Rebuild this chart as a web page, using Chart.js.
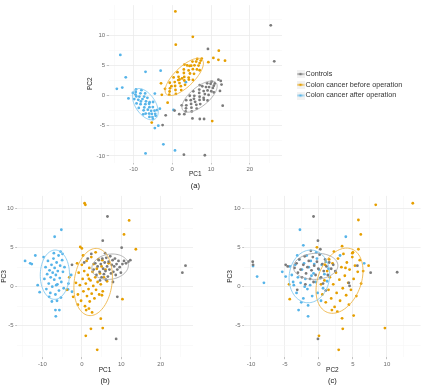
<!DOCTYPE html>
<html>
<head>
<meta charset="utf-8">
<script src="https://cdn.jsdelivr.net/npm/chart.js@4/dist/chart.umd.min.js"></script>
<style>
  html, body { margin: 0; padding: 0; background: #fff; }
  body { width: 422px; height: 385px; position: relative; overflow: hidden; }
  canvas { position: absolute; }
  #chartA { left: 80px; top: 0px; }
  #chartB { left: 0px; top: 190px; }
  #chartC { left: 222px; top: 190px; }
</style>
</head>
<body>
<canvas id="chartA" width="342" height="192"></canvas>
<canvas id="chartB" width="211" height="195"></canvas>
<canvas id="chartC" width="200" height="195"></canvas>
<script>
const groupNames = ["Controls", "Colon cancer before operation", "Colon cancer after operation"];

// (a) PC1 vs PC2
const controlsPC1PC2 = [
  [3.45,-2.63],[2.44,-1.63],[5.02,-2.64],[3.62,-1.64],[4.94,-2.03],[3.58,-0.78],[4.85,-1.41],[6.3,-2.17],[4.76,-0.79],[6.21,-1.55],
  [4.5,-0.05],[5.9,-1.05],[5.59,-0.56],[7.21,-1.43],[5.68,-0.06],[7.04,-0.75],[5.42,0.68],[7.04,-0.2],[8.14,-0.71],[6.95,0.42],
  [9.1,-0.84],[6.96,0.97],[8.4,0.22],[8.09,0.72],[9.36,0.09],[7.74,1.52],[9.1,0.83],[8.7,1.39],[10.06,0.69],[9.49,1.38],
  [9.01,2.0],[10.46,1.24],[9.89,1.93],[10.72,1.61],[10.15,2.3],[10.98,1.98],[3.54,-2.14],[8.09,-0.4],[7.08,1.71],[10.72,0.5],
  [25.4,11.6],[26.3,5.65],[9.2,7.7],[12.5,2.4],[12.7,1.8],[12.3,0.75],[13.0,-1.7],[-1.7,-3.3],[-2.5,-4.9],
  [5.2,-3.8],[7.1,-3.9],[8.2,-3.9],[3.0,-9.8],[8.4,-9.9],[0.6,-2.5],[1.8,-3.1],[3.1,-3.1],[11.9,2.6]
];
const beforePC1PC2 = [
  [-0.78,0.12],[-1.87,1.09],[0.93,0.25],[-0.59,1.18],[0.83,0.9],[-0.65,2.1],[0.73,1.56],[2.3,0.89],[0.63,2.21],[2.2,1.54],
  [0.34,2.98],[1.86,2.04],[1.53,2.54],[3.29,1.76],[1.62,3.08],[3.1,2.47],[1.33,3.85],[3.09,3.06],[4.28,2.62],[2.99,3.71],
  [5.32,2.57],[2.98,4.3],[4.56,3.63],[4.22,4.14],[5.6,3.58],[3.84,4.96],[5.31,4.35],[4.88,4.92],[6.36,4.31],[5.73,4.99],
  [5.21,5.61],[6.77,4.94],[6.15,5.61],[7.06,5.35],[6.43,6.03],[7.34,5.77],[-0.69,0.65],[4.23,2.95],[2.52,2.82],[3.12,5.1],
  [-0.22,1.54],[7.06,4.17],[1.86,2.64],[4.45,4.88],[7.6,6.1],
  [0.8,13.9],[5.3,9.7],[0.9,8.4],[12.0,7.4],[10.6,6.2],[11.9,5.9],[13.6,5.75],[9.3,5.5],[-2.9,2.0],
  [-2.7,0.1],[-1.2,-1.2],[10.3,-4.25],[-5.3,-4.5]
];
const afterPC1PC2 = [
  [-9.35,1.01],[-10.16,0.42],[-7.96,0.87],[-9.49,0.14],[-8.22,0.35],[-9.8,-0.61],[-8.5,-0.19],[-7.0,0.33],[-8.77,-0.72],[-7.26,-0.19],
  [-9.22,-1.33],[-7.69,-0.6],[-8.1,-1.0],[-6.42,-0.39],[-8.18,-1.44],[-6.78,-0.97],[-8.64,-2.06],[-6.95,-1.45],[-5.84,-1.12],[-7.22,-1.98],
  [-4.95,-1.09],[-7.39,-2.47],[-5.89,-1.94],[-6.31,-2.35],[-5.01,-1.93],[-6.86,-3.01],[-5.46,-2.54],[-5.98,-3.0],[-4.58,-2.52],[-5.29,-3.06],
  [-5.9,-3.55],[-4.41,-3.04],[-5.11,-3.58],[-4.29,-3.38],[-4.99,-3.92],[-9.42,0.57],[-5.97,-1.38],[-7.5,-3.12],[-9.28,-0.16],[-3.95,-2.42],
  [-13.4,6.7],[-12.0,3.0],[-14.3,1.1],[-12.9,1.3],[-6.9,3.9],[-3.0,4.1],[-4.5,0.3],[-3.2,-2.2],[0.3,-2.4],[3.5,2.2],
  [-3.6,-5.0],[-4.5,-5.4],[-2.3,-8.1],[-6.9,-9.6],[0.7,-9.1],[-11.3,-0.5]
];

// (b) PC1 vs PC3
const controlsPC1PC3 = [
  [3.0,2.2],[3.4,3.0],[3.7,1.5],[4.0,2.6],[4.3,3.4],[4.5,1.9],[4.8,2.9],[5.0,1.2],[5.2,3.6],[5.4,2.3],
  [5.6,1.6],[5.8,3.1],[6.0,2.0],[6.2,3.7],[6.4,2.6],[6.6,1.3],[6.8,3.2],[7.0,2.2],[7.2,3.9],[7.4,1.7],
  [7.6,2.8],[7.8,3.4],[8.0,1.9],[8.2,2.6],[8.4,3.6],[8.6,1.5],[8.8,2.9],[9.0,2.2],[9.3,3.3],[9.6,2.5],
  [9.9,1.8],[10.3,2.9],[10.7,3.3],[11.2,3.0],[11.8,3.2],[12.3,3.4],[6.1,0.9],[7.9,0.6],[5.9,4.3],[4.6,0.8],
  [6.5,9.0],[5.3,5.9],[10.1,5.0],[25.5,1.8],[26.3,2.7],[8.7,-6.7],[9.0,-1.3],[-2.5,2.8],[0.6,3.1],[1.5,3.6],[2.4,4.2]
];
const beforePC1PC3 = [
  [-1.5,0.5],[-1.0,-1.0],[-0.8,1.8],[-0.5,0.2],[-0.2,-1.8],[0.0,2.8],[0.2,1.0],[0.4,-0.6],[0.6,2.0],[0.8,-2.5],
  [1.0,0.4],[1.2,3.3],[1.3,-1.2],[1.5,1.5],[1.7,-0.3],[1.9,2.4],[2.0,-1.9],[2.2,0.8],[2.4,3.8],[2.5,-0.9],
  [2.7,1.9],[2.9,0.1],[3.0,2.9],[3.2,-1.5],[3.4,1.2],[3.6,-0.4],[3.8,2.3],[4.0,0.6],[4.2,3.5],[4.4,-1.0],
  [4.6,1.7],[4.8,0.3],[5.0,2.6],[5.3,-0.6],[5.6,1.2],[6.0,2.2],[6.4,0.7],[1.1,-3.0],[2.6,-3.3],[0.3,4.0],
  [3.5,4.4],[5.2,3.4],[6.8,3.0],[-1.2,3.0],[1.8,1.0],[5.1,-1.1],
  [0.7,10.7],[0.9,10.5],[12.0,8.5],[10.7,6.7],[13.7,4.8],[-0.4,5.1],[0.0,4.9],[4.8,-4.1],[5.3,-5.3],
  [2.3,-5.4],[1.0,-6.3],[3.9,-8.1],[10.3,-1.6],[-1.0,-2.3],[1.8,-2.8],[-3.8,-0.4],[-3.2,1.2],[-2.2,-1.3]
];
const afterPC1PC3 = [
  [-9.5,1.0],[-9.2,2.5],[-9.0,-0.3],[-8.8,1.6],[-8.6,3.3],[-8.4,0.4],[-8.2,2.1],[-8.0,-0.8],[-7.9,1.2],[-7.7,2.8],
  [-7.5,0.0],[-7.4,1.8],[-7.2,3.6],[-7.0,0.9],[-6.9,2.4],[-6.7,-1.0],[-6.6,1.5],[-6.4,3.1],[-6.2,0.3],[-6.1,2.0],
  [-5.9,4.0],[-5.8,-0.5],[-5.6,1.1],[-5.5,2.7],[-5.3,-1.4],[-5.2,0.6],[-5.0,3.4],[-4.8,1.9],[-4.6,-0.2],[-4.4,2.5],
  [-8.3,-1.3],[-7.1,4.3],[-6.3,-1.8],[-4.9,4.2],[-9.7,3.8],[-6.5,0.2],[-7.6,-1.9],[-5.4,4.5],
  [-5.2,7.3],[-6.9,6.4],[-14.4,3.3],[-13.1,3.0],[-12.7,2.9],[-11.8,4.0],[-11.2,0.2],[-10.7,-0.7],
  [-6.7,-3.0],[-6.6,-3.8],[-5.7,-3.0],[-3.5,-0.35],[-2.5,-0.65],[-3.4,0.4],[-2.7,1.5]
];

// (c) PC2 vs PC3
const controlsPC2PC3 = [
  [-3.6,2.4],[-3.3,3.0],[-3.1,1.8],[-2.9,3.5],[-2.7,2.2],[-2.5,1.2],[-2.3,2.8],[-2.1,3.9],[-1.9,1.7],[-1.7,2.5],
  [-1.5,3.3],[-1.3,1.0],[-1.1,2.1],[-0.9,3.8],[-0.7,2.7],[-0.5,1.5],[-0.3,3.2],[-0.1,2.3],[0.1,4.1],[0.3,1.2],
  [0.5,2.9],[0.7,2.0],[0.9,3.5],[1.1,2.6],[1.3,1.5],[1.5,3.1],[1.8,2.3],[2.1,2.8],[2.4,2.0],[-2.0,0.3],
  [-0.8,0.6],[0.6,0.4],[-1.2,4.6],[0.2,4.8],[-4.6,2.6],[1.0,-0.5],
  [-0.8,9.0],[-0.15,5.9],[-9.75,3.2],[-9.7,2.8],[11.5,1.85],[7.6,1.8],[5.65,2.7],[-0.15,-6.7],
  [-3.2,-0.4],[-4.9,2.8],[4.4,0.5],[4.5,0.1]
];
const beforePC2PC3 = [
  [0.5,-1.0],[0.8,0.8],[1.0,-2.0],[1.2,2.0],[1.4,-0.4],[1.6,1.2],[1.8,-1.5],[2.0,3.0],[2.1,0.3],[2.3,-2.6],
  [2.5,1.8],[2.6,-0.8],[2.8,3.6],[3.0,0.9],[3.1,-1.8],[3.3,2.5],[3.5,-0.2],[3.6,4.2],[3.8,1.4],[4.0,-1.1],
  [4.1,3.1],[4.3,0.5],[4.5,2.2],[4.7,-0.4],[4.9,3.8],[5.1,1.0],[5.3,2.7],[5.5,-1.2],[5.7,1.9],[6.0,3.4],
  [6.2,0.4],[1.5,3.5],[2.7,-3.2],[3.9,2.4],[2.2,4.5],[5.0,4.4],[0.3,0.3],[1.9,-3.0],[4.4,-2.3],[3.4,5.2],
  [6.5,2.0],[0.9,2.8],[4.9,4.3],
  [8.35,10.5],[13.8,10.7],[5.8,8.55],[6.15,6.7],[-0.3,5.05],[5.8,4.8],[9.7,-5.3],[5.1,-3.7],[3.4,-4.05],
  [3.5,-5.4],[0.0,-6.3],[2.9,-8.1],[-4.3,-1.6],[-4.4,0.3],[7.3,2.7]
];
const afterPC2PC3 = [
  [-4.0,1.5],[-3.7,0.2],[-3.5,2.8],[-3.3,-0.8],[-3.1,1.2],[-2.9,3.5],[-2.7,0.5],[-2.5,2.2],[-2.3,-1.5],[-2.2,3.0],
  [-2.0,1.0],[-1.8,4.0],[-1.7,-0.3],[-1.5,2.5],[-1.3,0.2],[-1.2,3.3],[-1.0,-1.2],[-0.8,1.7],[-0.7,2.9],[-0.5,0.6],
  [-0.3,3.6],[-0.2,-0.8],[0.0,2.2],[0.2,1.1],[0.4,2.8],[0.6,-0.2],[0.8,1.6],[1.0,3.2],[1.2,0.7],[-2.6,-2.0],
  [-1.6,-2.4],[-0.4,4.4],[-3.2,4.0],[1.4,2.3],[-2.1,0.0],[0.3,-1.8],[-1.1,1.4],[-4.3,2.6],
  [-2.8,7.3],[-2.3,5.3],[3.95,6.4],[-9.7,2.65],[-9.1,1.3],[-8.1,0.5],[-5.4,1.9],[-4.9,1.3],[-3.8,0.6],
  [-3.0,-3.0],[-1.6,-3.8],[6.65,3.0],[3.1,4.0]
];

// confidence ellipses: [centre x, centre y, axis1 dx, axis1 dy, axis2 dx, axis2 dy] per group
const ellipsesA = [[7.04,-0.2,4.25,2.3,1.6,-1.16],[3.09,3.06,4.59,2.87,1.82,-1.14],[-6.95,-1.45,2.53,-2.44,2.16,0.88]];
const ellipsesB = [[7.17,2.56,4.64,0.2,0,1.62],[2.87,0.6,1.1,4.3,4.76,-0.31],[-6.84,1.54,0.2,3.16,3.7,-0.1]];
const ellipsesC = [[-0.49,2.61,3.27,0.1,0,1.67],[3.02,0.77,1.8,4.06,2.95,-1.0],[-1.41,1.32,0.2,3.38,2.98,0]];

const pointColors = ["#7b7b7b", "#E69F00", "#56B4E9"];
const ellipseColors = ["#a9a9a9", "#eeb547", "#86c9ef"];
const FONT = "'Liberation Sans', Arial, sans-serif";

// little ggplot-like legend keys
const legendIcons = pointColors.map((c) => {
  const cv = document.createElement("canvas");
  cv.width = 8; cv.height = 8;
  const g = cv.getContext("2d");
  g.fillStyle = "#f2f2f2"; g.fillRect(0, 0, 8, 8);
  g.strokeStyle = c; g.lineWidth = 1;
  g.beginPath(); g.moveTo(0.5, 4); g.lineTo(7.5, 4); g.stroke();
  g.fillStyle = c; g.beginPath(); g.arc(4, 4, 1.3, 0, Math.PI * 2); g.fill();
  return cv;
});

const ellipsePlugin = {
  id: "ellipses",
  afterDatasetsDraw(chart, args, opts) {
    const { ctx, chartArea, scales } = chart;
    ctx.save();
    ctx.beginPath();
    ctx.rect(chartArea.left, chartArea.top, chartArea.width, chartArea.height);
    ctx.clip();
    opts.items.forEach((e, i) => {
      const [cx, cy, ux, uy, vx, vy] = e;
      ctx.beginPath();
      for (let k = 0; k <= 90; k++) {
        const t = (k / 90) * Math.PI * 2;
        const px = scales.x.getPixelForValue(cx + Math.cos(t) * ux + Math.sin(t) * vx);
        const py = scales.y.getPixelForValue(cy + Math.cos(t) * uy + Math.sin(t) * vy);
        if (k === 0) ctx.moveTo(px, py); else ctx.lineTo(px, py);
      }
      ctx.strokeStyle = ellipseColors[i];
      ctx.lineWidth = 0.9;
      ctx.stroke();
    });
    ctx.restore();
  },
};

// legend to the right of the panel, vertically centred on it
const sideLegendPlugin = {
  id: "sideLegend",
  afterDraw(chart, args, opts) {
    if (!opts.display) return;
    const { ctx, chartArea } = chart;
    const mid = (chartArea.top + chartArea.bottom) / 2 + opts.shift;
    ctx.save();
    ctx.font = `7.2px ${FONT}`;
    ctx.fillStyle = "#333";
    ctx.textBaseline = "middle";
    chart.data.datasets.forEach((ds, i) => {
      const yy = mid + (i - 1) * opts.rowHeight;
      const x0 = chartArea.right + opts.gap;
      ctx.drawImage(legendIcons[i], x0, yy - 4);
      ctx.fillText(ds.label, x0 + 9, yy);
    });
    ctx.restore();
  },
};

function axis(p) {
  const isMajor = (v) => Math.abs(v % p.major) < 1e-6;
  return {
    type: "linear",
    min: p.min,
    max: p.max,
    afterFit: (s) => { if (p.width) s.width = p.width; if (p.height) s.height = p.height; },
    border: { display: false },
    grid: {
      color: (c) => (c.tick && isMajor(c.tick.value) ? "#ebebeb" : "#f5f5f5"),
      lineWidth: (c) => (c.tick && isMajor(c.tick.value) ? 0.8 : 0.5),
      tickColor: (c) => (c.tick && isMajor(c.tick.value) ? "#9a9a9a" : "rgba(0,0,0,0)"),
      tickLength: 2,
      tickWidth: 0.6,
    },
    ticks: {
      stepSize: p.step,
      includeBounds: false,
      autoSkip: false,
      maxRotation: 0,
      padding: 1.5,
      color: "#6b6b6b",
      font: { family: FONT, size: 6 },
      callback: (v) => (isMajor(v) ? String(v) : ""),
    },
    title: {
      display: true,
      text: p.title,
      color: "#222",
      font: { family: FONT, size: 6.5, lineHeight: 1.2 },
      padding: p.titlePad,
    },
  };
}

function makePanel(id, p) {
  return new Chart(document.getElementById(id), {
    type: "scatter",
    data: {
      datasets: groupNames.map((name, i) => ({
        label: name,
        data: p.points[i].map(([x, y]) => ({ x, y })),
        backgroundColor: pointColors[i],
        borderColor: pointColors[i],
        borderWidth: 0,
        pointRadius: 1.4,
        pointHoverRadius: 1.4,
      })),
    },
    options: {
      responsive: false,
      animation: false,
      events: [],
      layout: { padding: p.padding },
      scales: { x: axis(p.x), y: axis(p.y) },
      plugins: {
        ellipses: { items: p.ellipses },
        sideLegend: { display: !!p.legend, gap: 14.5, rowHeight: 10.7, shift: 1 },
        tooltip: { enabled: false },
        legend: { display: false },
        title: {
          display: true,
          text: p.caption,
          position: "bottom",
          fullSize: false,
          color: "#111",
          font: { family: FONT, size: 7.5, weight: "normal", lineHeight: 1.2 },
          padding: p.captionPad,
        },
      },
    },
    plugins: [ellipsePlugin, sideLegendPlugin],
  });
}

makePanel("chartA", {
  points: [controlsPC1PC2, beforePC1PC2, afterPC1PC2],
  ellipses: ellipsesA,
  legend: true,
  caption: "(a)",
  captionPad: { top: 2, bottom: 2 },
  padding: { left: 0, top: 0, right: 140, bottom: 0 },
  x: { min: -16.4, max: 28.3, step: 5, major: 10, title: "PC1", height: 16.5, titlePad: { top: 0, bottom: 0.5 } },
  y: { min: -11.1, max: 14.95, step: 2.5, major: 5, title: "PC2", width: 28.7, titlePad: { top: 6.8, bottom: 0 } },
});

makePanel("chartB", {
  points: [controlsPC1PC3, beforePC1PC3, afterPC1PC3],
  ellipses: ellipsesB,
  caption: "(b)",
  captionPad: { top: 1, bottom: 0 },
  padding: { left: 0, top: 5.9, right: 18, bottom: 0 },
  x: { min: -16.4, max: 28.2, step: 5, major: 10, title: "PC1", height: 17.8, titlePad: { top: 0, bottom: 0.8 } },
  y: { min: -9.04, max: 11.64, step: 2.5, major: 5, title: "PC3", width: 17.2, titlePad: { top: 0, bottom: 0 } },
});

makePanel("chartC", {
  points: [controlsPC2PC3, beforePC2PC3, afterPC2PC3],
  ellipses: ellipsesC,
  caption: "(c)",
  captionPad: { top: 1, bottom: 0 },
  padding: { left: 0, top: 5.9, right: 0, bottom: 0 },
  x: { min: -11.0, max: 14.95, step: 2.5, major: 5, title: "PC2", height: 17.8, titlePad: { top: 0, bottom: 0.8 } },
  y: { min: -9.04, max: 11.64, step: 2.5, major: 5, title: "PC3", width: 22.2, titlePad: { top: 4.1, bottom: 0 } },
});
</script>
</body>
</html>
